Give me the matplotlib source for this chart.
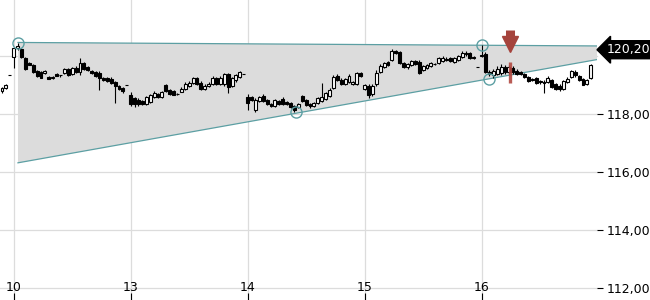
import matplotlib
matplotlib.use("Agg")
import matplotlib.pyplot as plt
import numpy as np

# ---- data (bar index based, intraday candles) ----
opens = [118.78,118.88,119.33,119.95,120.26,120.22,119.91,119.74,119.67,119.47,
         119.43,119.40,119.26,119.22,119.36,119.33,119.40,119.53,119.36,119.57,
         119.43,119.74,119.60,119.47,119.43,119.40,119.22,119.22,119.19,119.09,
         118.95,118.88,118.98,118.64,118.54,118.47,118.43,118.33,118.40,118.57,
         118.67,118.57,118.98,118.81,118.78,118.67,118.74,118.85,118.95,119.05,
         119.22,119.05,118.85,118.95,119.02,119.22,119.02,119.02,119.36,118.95,
         119.16,119.26,119.36,118.57,118.57,118.12,118.43,118.60,118.47,118.33,
         118.26,118.43,118.50,118.40,118.36,118.26,118.22,118.60,118.47,118.33,
         118.26,118.36,118.43,118.50,118.60,118.88,119.29,119.16,119.02,119.09,
         119.02,119.02,119.40,118.85,118.95,118.67,119.02,119.43,119.60,119.78,
         119.84,120.16,120.12,119.74,119.60,119.67,119.81,119.78,119.50,119.57,
         119.64,119.71,119.74,119.81,119.88,119.91,119.78,119.84,119.95,120.09,
         120.09,119.95,119.60,119.98,120.05,119.43,119.33,119.36,119.40,119.60,
         119.43,119.57,119.47,119.43,119.36,119.26,119.19,119.22,119.12,119.09,
         119.09,119.16,119.02,118.95,118.85,119.09,119.26,119.43,119.29,119.19,
         119.02,119.22]
highs = [118.91,119.02,119.34,120.29,120.43,120.26,119.95,119.78,119.71,119.50,
         119.47,119.50,119.29,119.29,119.40,119.33,119.57,119.57,119.60,119.64,
         119.91,119.78,119.64,119.50,119.47,119.47,119.26,119.26,119.26,119.12,
         118.98,118.91,118.99,118.74,118.57,118.54,118.47,118.60,118.67,118.78,
         118.71,118.78,119.02,118.85,118.81,118.71,118.91,119.09,119.12,119.26,
         119.26,119.12,119.02,119.09,119.29,119.26,119.29,119.40,119.40,119.26,
         119.36,119.47,119.37,118.67,118.60,118.54,118.60,118.67,118.50,118.36,
         118.50,118.47,118.57,118.43,118.40,118.29,118.36,118.64,118.50,118.36,
         118.40,118.57,119.05,118.74,118.88,119.33,119.36,119.22,119.22,119.36,
         119.12,119.43,119.43,119.02,119.02,119.02,119.50,119.71,119.78,119.81,
         120.22,120.19,120.16,119.78,119.74,119.84,119.84,119.84,119.67,119.71,
         119.78,119.74,119.95,119.98,119.95,119.95,119.95,120.02,120.16,120.16,
         120.12,119.98,119.61,120.36,120.12,119.50,119.53,119.64,119.71,119.67,
         119.67,119.64,119.53,119.47,119.40,119.29,119.22,119.26,119.16,119.16,
         119.29,119.19,119.05,119.02,119.16,119.26,119.50,119.50,119.33,119.22,
         119.19,119.71]
lows = [118.71,118.85,119.32,119.57,120.19,119.91,119.50,119.67,119.40,119.26,
        119.22,119.36,119.19,119.19,119.29,119.26,119.36,119.29,119.33,119.40,
        119.33,119.50,119.47,119.36,119.26,118.81,119.12,119.09,119.02,118.36,
        118.81,118.71,118.97,118.26,118.22,118.26,118.29,118.29,118.36,118.54,
        118.54,118.54,118.74,118.64,118.64,118.64,118.74,118.81,118.91,119.02,
        118.98,118.81,118.81,118.91,118.98,118.98,118.98,118.95,118.71,118.91,
        119.09,119.22,119.35,118.12,118.43,118.05,118.40,118.40,118.29,118.22,
        118.22,118.29,118.29,118.29,118.19,118.05,118.19,118.40,118.26,118.19,
        118.22,118.33,118.40,118.47,118.57,118.85,119.12,118.98,118.98,119.05,
        118.98,118.98,119.26,118.81,118.54,118.60,118.95,119.40,119.57,119.64,
        119.81,120.05,119.71,119.57,119.53,119.64,119.67,119.36,119.47,119.53,
        119.60,119.67,119.71,119.78,119.81,119.78,119.74,119.81,119.91,119.98,
        119.88,119.88,119.59,119.95,119.40,119.29,119.22,119.33,119.33,119.36,
        119.36,119.36,119.33,119.33,119.22,119.09,119.12,119.02,119.02,118.71,
        119.05,118.88,118.81,118.78,118.81,119.05,119.22,119.26,119.12,118.98,
        118.98,119.19]
closes = [118.88,118.98,119.33,120.26,120.33,119.95,119.53,119.67,119.43,119.29,
          119.22,119.47,119.19,119.26,119.29,119.33,119.53,119.33,119.57,119.43,
          119.74,119.53,119.50,119.40,119.29,119.22,119.16,119.12,119.05,118.95,
          118.85,118.78,118.98,118.33,118.33,118.33,118.33,118.57,118.64,118.71,
          118.57,118.74,118.78,118.67,118.64,118.67,118.85,119.02,119.05,119.22,
          119.02,118.85,118.95,119.02,119.22,119.02,119.22,119.36,118.91,119.22,
          119.33,119.43,119.36,118.36,118.47,118.47,118.57,118.43,118.33,118.26,
          118.47,118.33,118.33,118.33,118.22,118.12,118.33,118.43,118.29,118.26,
          118.36,118.54,118.57,118.71,118.81,119.26,119.16,119.02,119.19,119.29,
          119.09,119.40,119.29,118.98,118.64,118.95,119.40,119.64,119.74,119.67,
          120.16,120.09,119.74,119.60,119.71,119.81,119.71,119.40,119.64,119.67,
          119.74,119.71,119.91,119.91,119.84,119.81,119.91,119.98,120.09,120.05,
          119.91,119.91,119.60,120.02,119.43,119.36,119.47,119.53,119.60,119.43,
          119.60,119.43,119.36,119.36,119.26,119.12,119.16,119.05,119.09,119.05,
          119.22,118.91,118.85,118.85,119.12,119.19,119.47,119.33,119.16,118.98,
          119.16,119.67]

day_labels = ["10", "13", "14", "15", "16"]
day_start_bar = [3, 33, 63, 93, 123]

# trendline anchors (bar, price)
upper_line_x = [4.1, 152.6]
upper_line_y = [120.45, 120.33]
lower_line_x = [4.1, 152.6]
lower_line_y = [116.30, 119.86]
pivot_x = [4.1, 123, 75.5, 125]
pivot_y = [120.43, 120.36, 118.04, 119.19]

signal_bar = 130.3
last_price = 120.20
y_ticks = [112, 114, 116, 118, 120]

# ---- figure ----
fig = plt.figure(figsize=(6.5, 3.0), dpi=100)
ax = fig.add_axes([0, 0, 597/650, 1])
ax.set_xlim(-0.51, 152.6)
ax.set_ylim(111.57, 121.914)

for s in ax.spines.values():
    s.set_visible(False)

# gridlines
for yt in y_ticks:
    ax.axhline(yt, color="#dcdcdc", lw=0.9, zorder=0, clip_on=False)
for xb in day_start_bar:
    ax.axvline(xb, color="#dcdcdc", lw=0.9, zorder=0)

# triangle fill + lines
poly_x = [upper_line_x[0], upper_line_x[1], lower_line_x[1], lower_line_x[0]]
poly_y = [upper_line_y[0], upper_line_y[1], lower_line_y[1], lower_line_y[0]]
ax.fill(poly_x, poly_y, color="#dcdcdc", zorder=1, lw=0)
ax.plot(upper_line_x, upper_line_y, color="#5c9fa3", lw=0.9, zorder=2)
ax.plot(lower_line_x, lower_line_y, color="#5c9fa3", lw=0.9, zorder=2)

# candles
x = np.arange(len(closes))
o = np.array(opens); c = np.array(closes); h = np.array(highs); l = np.array(lows)
ax.vlines(x, l, h, color="black", lw=0.8, zorder=3)
up = c >= o
body_bottom = np.minimum(o, c)
body_h = np.maximum(np.abs(c - o), 0.012)
ax.bar(x[up], body_h[up], bottom=body_bottom[up], width=0.75,
       facecolor="white", edgecolor="black", lw=0.8, zorder=4)
ax.bar(x[~up], body_h[~up], bottom=body_bottom[~up], width=0.75,
       facecolor="black", edgecolor="black", lw=0.8, zorder=4)

# pivot circles
ax.plot(pivot_x, pivot_y, "o", mfc="none", mec="#5c9fa3", ms=8, mew=1.0, zorder=5)

# signal marker
ax.plot([signal_bar, signal_bar], [120.88, 120.50], color="#a5433c", lw=6.5,
        solid_capstyle="butt", zorder=6)
ax.plot([signal_bar], [120.40], marker="v", color="#a5433c", ms=11, zorder=6)
ax.plot([signal_bar, signal_bar], [119.78, 119.05], color="#b24a42", lw=2.4,
        alpha=0.9, solid_capstyle="butt", zorder=6)

# y axis on the right
ax.yaxis.tick_right()
ax.set_yticks(y_ticks[:-1])
ax.set_yticklabels([f"{v:.2f}".replace(".", ",") for v in y_ticks[:-1]])
ax.tick_params(axis="y", length=4, width=0.8, pad=3, labelsize=9, colors="black")

# x ticks
ax.set_xticks(day_start_bar)
ax.set_xticklabels([])
ax.tick_params(axis="x", direction="in", length=5, width=0.8, colors="black")
for xb, lab in zip(day_start_bar, day_labels):
    ax.text(xb, 112.0, lab, ha="center", va="center", fontsize=9, zorder=7)

# last price tag
ax.annotate(f"{last_price:.2f}".replace(".", ","),
            xy=(1.0, last_price), xycoords=("axes fraction", "data"),
            xytext=(7, 0), textcoords="offset points",
            ha="left", va="center", color="white", fontsize=9,
            bbox=dict(boxstyle="larrow,pad=0.2", fc="black", ec="black"),
            annotation_clip=False, zorder=8)
ax.plot([1.0, 1.008], [last_price, last_price], color="black", lw=0.8,
        transform=ax.get_yaxis_transform(), clip_on=False)

fig.savefig("out.png", dpi=100)
